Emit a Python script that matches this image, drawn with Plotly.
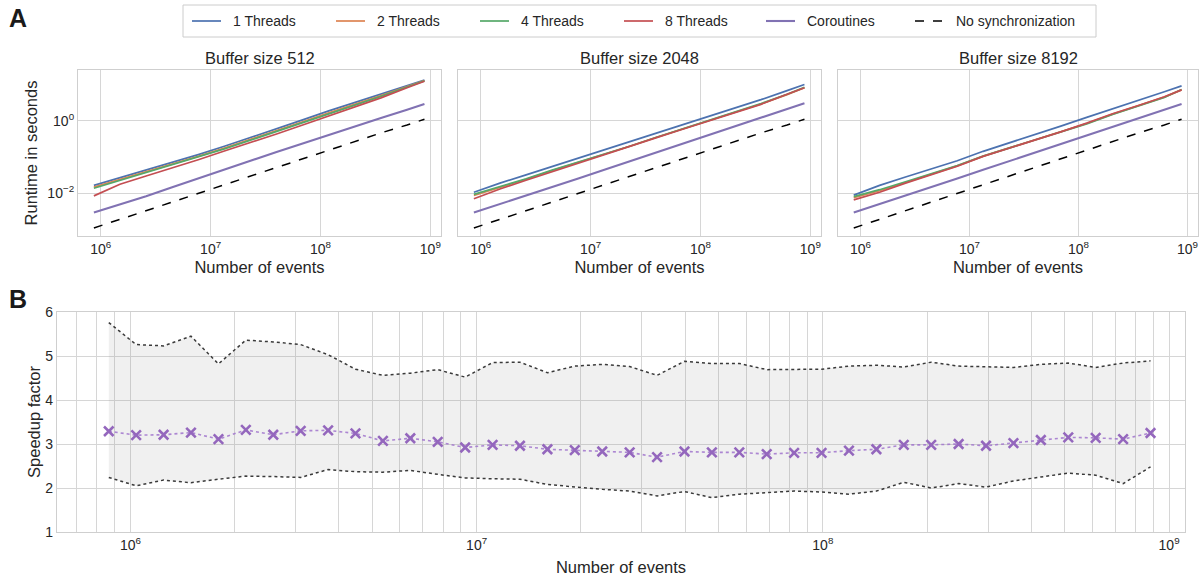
import plotly.graph_objects as go

# ---------------- data ----------------
# Panel A: number of events (subset shown in runtime panels)
events_a = [866000, 1496000, 2586000, 4468000, 7721000, 13340000, 23060000,
            39840000, 68840000, 118960000, 205570000, 355220000, 613820000, 883900000]

series_names = ["1 Threads", "2 Threads", "4 Threads", "8 Threads", "Coroutines", "No synchronization"]

# Buffer size 512 (runtime in seconds)
b512_t1 = [0.0166, 0.0269, 0.0447, 0.0724, 0.118, 0.200, 0.347, 0.603, 1.072, 1.905, 3.236, 5.495, 9.550, 13.49]
b512_t2 = [0.0148, 0.0240, 0.0398, 0.0646, 0.105, 0.178, 0.309, 0.537, 0.955, 1.698, 2.884, 5.012, 8.913, 13.18]
b512_t4 = [0.0138, 0.0229, 0.0380, 0.0617, 0.100, 0.170, 0.295, 0.513, 0.912, 1.622, 2.754, 4.786, 8.710, 12.88]
b512_t8 = [0.00851, 0.0178, 0.0302, 0.0501, 0.0851, 0.148, 0.251, 0.437, 0.776, 1.380, 2.455, 4.365, 8.318, 12.59]
b512_co = [0.00295, 0.00490, 0.00832, 0.0148, 0.0263, 0.0457, 0.0794, 0.138, 0.240, 0.417, 0.708, 1.202, 2.042, 2.951]

# Buffer size 2048
b2048_t1 = [0.0107, 0.0191, 0.0324, 0.0550, 0.0912, 0.158, 0.275, 0.468, 0.794, 1.349, 2.291, 3.890, 6.918, 10.23]
b2048_t2 = [0.00871, 0.0145, 0.0245, 0.0427, 0.0708, 0.118, 0.204, 0.355, 0.603, 1.023, 1.738, 2.951, 5.370, 8.318]
b2048_t4 = [0.00933, 0.0151, 0.0251, 0.0437, 0.0724, 0.120, 0.204, 0.355, 0.603, 1.023, 1.778, 3.020, 5.495, 8.511]
b2048_t8 = [0.00708, 0.0132, 0.0229, 0.0398, 0.0676, 0.118, 0.200, 0.347, 0.589, 1.000, 1.698, 2.884, 5.495, 8.318]
b2048_co = [0.00295, 0.00501, 0.00851, 0.0151, 0.0257, 0.0447, 0.0776, 0.135, 0.229, 0.398, 0.692, 1.202, 2.089, 3.090]

# Buffer size 8192
b8192_t1 = [0.00891, 0.0166, 0.0282, 0.0468, 0.0794, 0.145, 0.245, 0.417, 0.724, 1.259, 2.138, 3.631, 6.457, 9.333]
b8192_t2 = [0.00759, 0.0118, 0.0200, 0.0347, 0.0575, 0.107, 0.178, 0.302, 0.501, 0.851, 1.549, 2.692, 4.571, 7.244]
b8192_t4 = [0.00813, 0.0126, 0.0209, 0.0355, 0.0589, 0.107, 0.178, 0.302, 0.501, 0.832, 1.514, 2.630, 4.467, 7.413]
b8192_t8 = [0.00661, 0.0107, 0.0191, 0.0331, 0.0562, 0.105, 0.174, 0.295, 0.501, 0.871, 1.585, 2.692, 4.677, 7.244]
b8192_co = [0.00295, 0.00501, 0.00851, 0.0151, 0.0257, 0.0447, 0.0776, 0.135, 0.229, 0.398, 0.692, 1.202, 2.042, 2.951]

# No synchronization baseline (same in every panel)
nosync = [0.00110, 0.00191, 0.00324, 0.00562, 0.00977, 0.0170, 0.0295, 0.0513, 0.0912, 0.158, 0.269, 0.468, 0.776, 1.122]

buffer_titles = ["Buffer size 512", "Buffer size 2048", "Buffer size 8192"]

# Panel B: speedup factor
events_b = [866000, 1039000, 1247000, 1496000, 1796000, 2155000, 2586000, 3103000, 3724000, 4468000,
            5362000, 6434000, 7721000, 9266000, 11120000, 13340000, 16010000, 19210000, 23060000, 27670000,
            33200000, 39840000, 47810000, 57370000, 68840000, 82610000, 99140000, 118960000, 142760000, 171310000,
            205570000, 246680000, 296020000, 355220000, 426270000, 511520000, 613820000, 736590000, 883900000]
speedup_mean = [3.29, 3.20, 3.21, 3.26, 3.11, 3.32, 3.21, 3.30, 3.31, 3.24,
                3.07, 3.13, 3.05, 2.92, 2.98, 2.96, 2.88, 2.86, 2.83, 2.81,
                2.70, 2.83, 2.81, 2.81, 2.77, 2.80, 2.80, 2.85, 2.88, 2.98,
                2.98, 3.00, 2.96, 3.02, 3.09, 3.15, 3.14, 3.11, 3.25]
speedup_upper = [5.76, 5.26, 5.23, 5.45, 4.82, 5.36, 5.32, 5.26, 5.03, 4.70,
                 4.56, 4.61, 4.69, 4.52, 4.85, 4.86, 4.62, 4.77, 4.81, 4.76,
                 4.56, 4.88, 4.83, 4.83, 4.69, 4.69, 4.70, 4.77, 4.79, 4.75,
                 4.86, 4.77, 4.75, 4.74, 4.81, 4.84, 4.74, 4.84, 4.89]
speedup_lower = [2.24, 2.05, 2.18, 2.12, 2.20, 2.27, 2.26, 2.24, 2.42, 2.37,
                 2.36, 2.40, 2.31, 2.23, 2.21, 2.20, 2.08, 2.02, 1.97, 1.93,
                 1.82, 1.92, 1.78, 1.86, 1.89, 1.93, 1.91, 1.86, 1.93, 2.13,
                 2.00, 2.10, 2.02, 2.16, 2.25, 2.34, 2.29, 2.10, 2.48]

# ---------------- style ----------------
colors = ["#4C72B0", "#DD8452", "#55A868", "#C44E52", "#8172B3", "#000000"]
widths = [1.7, 1.7, 1.7, 1.7, 2.1, 1.5]
FONT = "Liberation Sans, Arial, sans-serif"
TXT = "#262626"
GRID = "#d6d6d6"

W, H = 1202, 581
def px_x(a, b):
    return [a / W, b / W]
def px_y(top, bottom):
    return [1 - bottom / H, 1 - top / H]

top_x_domains = [px_x(78, 441), px_x(458, 821), px_x(838, 1198)]
top_y_domain = px_y(70, 236)
bot_x_domain = px_x(57, 1185)
bot_y_domain = px_y(312, 532)

fig = go.Figure()

panels = [
    (b512_t1, b512_t2, b512_t4, b512_t8, b512_co),
    (b2048_t1, b2048_t2, b2048_t4, b2048_t8, b2048_co),
    (b8192_t1, b8192_t2, b8192_t4, b8192_t8, b8192_co),
]

for p, data in enumerate(panels):
    xa = "x" if p == 0 else f"x{p+1}"
    ya = "y" if p == 0 else f"y{p+1}"
    all_series = list(data) + [nosync]
    for i, ys in enumerate(all_series):
        fig.add_trace(go.Scatter(
            x=events_a, y=ys, mode="lines", name=series_names[i],
            line=dict(color=colors[i], width=widths[i], dash="dash" if i == 5 else "solid"),
            showlegend=False, xaxis=xa, yaxis=ya,
        ))

# Panel B traces
fig.add_trace(go.Scatter(
    x=events_b, y=speedup_upper, mode="lines",
    line=dict(color="#3a3a3a", width=1.5, dash="dot"),
    showlegend=False, xaxis="x4", yaxis="y4",
))
fig.add_trace(go.Scatter(
    x=events_b, y=speedup_lower, mode="lines", fill="tonexty",
    fillcolor="rgba(140,140,140,0.13)",
    line=dict(color="#3a3a3a", width=1.5, dash="dot"),
    showlegend=False, xaxis="x4", yaxis="y4",
))
fig.add_trace(go.Scatter(
    x=events_b, y=speedup_mean, mode="lines+markers",
    line=dict(color="rgba(160,115,205,0.85)", width=1.6, dash="dot"),
    marker=dict(symbol="x-thin-open", size=9.5, color="#9467bd",
                line=dict(color="#9467bd", width=2.6)),
    showlegend=False, xaxis="x4", yaxis="y4",
))

axis_common = dict(
    showgrid=True, gridcolor=GRID, gridwidth=1.2,
    showline=True, linecolor="#cfcfcf", linewidth=1.2, mirror=True,
    ticks="", zeroline=False, automargin=False,
    tickfont=dict(family=FONT, size=14, color=TXT),
)

top_xticks = [1e6, 1e7, 1e8, 1e9]
top_xtext = ["10<sup>6</sup>", "10<sup>7</sup>", "10<sup>8</sup>", "10<sup>9</sup>"]

layout = dict(
    width=W, height=H,
    margin=dict(l=0, r=0, t=0, b=0),
    paper_bgcolor="white", plot_bgcolor="white",
    font=dict(family=FONT, color=TXT),
    showlegend=False,
)

for p in range(3):
    xk = "xaxis" if p == 0 else f"xaxis{p+1}"
    yk = "yaxis" if p == 0 else f"yaxis{p+1}"
    ya_ref = "y" if p == 0 else f"y{p+1}"
    xa_ref = "x" if p == 0 else f"x{p+1}"
    layout[xk] = dict(
        axis_common, type="log", domain=top_x_domains[p], anchor=ya_ref,
        range=[5.793, 9.097], tickvals=top_xticks, ticktext=top_xtext,
        title=dict(text="Number of events", font=dict(family=FONT, size=16.5, color=TXT), standoff=5),
    )
    ydict = dict(
        axis_common, type="log", domain=top_y_domain, anchor=xa_ref,
        range=[-3.18, 1.41], tickvals=[0.01, 1.0],
        ticktext=["10<sup>−2</sup>", "10<sup>0</sup>"],
        showticklabels=(p == 0),
    )
    if p == 0:
        ydict["title"] = dict(text="Runtime in seconds", font=dict(family=FONT, size=16.5, color=TXT), standoff=5)
    layout[yk] = ydict

# bottom panel axis: labelled decades plus minor grid lines at 2..9 x 10^n
bot_major = [1e6, 1e7, 1e8, 1e9]
bot_major_text = ["10<sup>6</sup>", "10<sup>7</sup>", "10<sup>8</sup>", "10<sup>9</sup>"]
bot_minor = []
for exp10 in [5, 6, 7, 8]:
    for m in range(2, 10):
        v = m * 10 ** exp10
        if 6.1e5 <= v <= 1.11e9:
            bot_minor.append(v)

layout["xaxis4"] = dict(
    axis_common, type="log", domain=bot_x_domain, anchor="y4",
    range=[5.788, 9.046], tickvals=bot_major, ticktext=bot_major_text,
    minor=dict(tickmode="array", tickvals=bot_minor, showgrid=True,
               gridcolor=GRID, gridwidth=1.2, ticks=""),
    title=dict(text="Number of events", font=dict(family=FONT, size=16.5, color=TXT), standoff=9),
)
layout["yaxis4"] = dict(
    axis_common, domain=bot_y_domain, anchor="x4",
    range=[1, 6], tickvals=[1, 2, 3, 4, 5, 6],
    title=dict(text="Speedup factor", font=dict(family=FONT, size=16.5, color=TXT), standoff=0),
)

annotations = []
shapes = []
for p in range(3):
    cx = (top_x_domains[p][0] + top_x_domains[p][1]) / 2
    annotations.append(dict(
        text=buffer_titles[p], x=cx, y=1 - 58 / H, xref="paper", yref="paper",
        xanchor="center", yanchor="middle", showarrow=False,
        font=dict(family=FONT, size=16.5, color=TXT),
    ))
annotations.append(dict(text="<b>A</b>", x=7 / W, y=1 - 18 / H, xref="paper", yref="paper",
                        xanchor="left", yanchor="middle", showarrow=False,
                        font=dict(family=FONT, size=25, color="#1a1a1a")))
annotations.append(dict(text="<b>B</b>", x=7 / W, y=1 - 299 / H, xref="paper", yref="paper",
                        xanchor="left", yanchor="middle", showarrow=False,
                        font=dict(family=FONT, size=25, color="#1a1a1a")))

# legend (drawn as shapes + text)
legend_line_starts = [192, 336, 480, 624, 766, 915]
leg_y = 1 - 21 / H
shapes.append(dict(type="rect", xref="paper", yref="paper",
                   x0=183 / W, x1=1096 / W, y0=1 - 37 / H, y1=1 - 5 / H,
                   line=dict(color="#cccccc", width=1), fillcolor="white"))
for i, name in enumerate(series_names):
    x0 = legend_line_starts[i]
    shapes.append(dict(type="line", xref="paper", yref="paper",
                       x0=x0 / W, x1=(x0 + 29) / W, y0=leg_y, y1=leg_y,
                       line=dict(color=colors[i], width=widths[i],
                                 dash="dash" if i == 5 else "solid")))
    annotations.append(dict(text=name, x=(x0 + 39) / W, y=leg_y, xref="paper", yref="paper",
                            xanchor="left", yanchor="middle", showarrow=False,
                            font=dict(family=FONT, size=14, color=TXT)))

layout["annotations"] = annotations
layout["shapes"] = shapes

fig.update_layout(**layout)
fig.write_html("out.html",
               config={"displayModeBar": False},
               post_script="document.body.style.margin='0';document.body.style.overflow='hidden';")
